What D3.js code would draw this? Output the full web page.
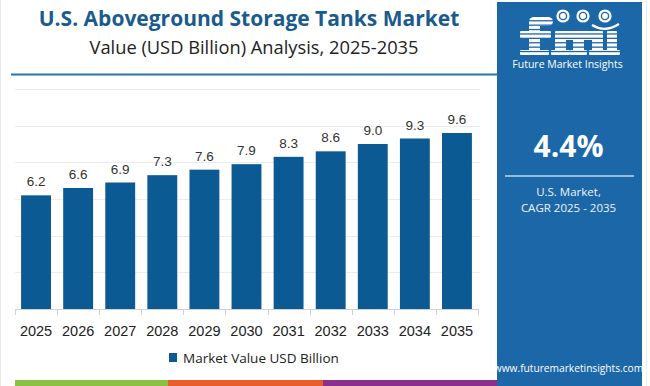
<!DOCTYPE html>
<html><head><meta charset="utf-8">
<script src="https://cdn.jsdelivr.net/npm/d3@7"></script>
<style>
html,body{margin:0;padding:0;background:#fff;}
svg{display:block;font-family:"Open Sans",sans-serif;}
</style></head>
<body>
<svg id="chart" width="650" height="386"></svg>
<script>
const years = ["2025","2026","2027","2028","2029","2030","2031","2032","2033","2034","2035"];
const values = [6.2,6.6,6.9,7.3,7.6,7.9,8.3,8.6,9.0,9.3,9.6];
const yTicks = [0,2,4,6,8,10,12];
const titleText = "U.S. Aboveground Storage Tanks Market";
const subtitleText = "Value (USD Billion) Analysis, 2025-2035";
const legendLabel = "Market Value USD Billion";
const cagrText = "4.4%";
const cagrLines = ["U.S. Market,", "CAGR 2025 - 2035"];
const siteText = "www.futuremarketinsights.com";
const stripeColors = ["#8cc045","#e85d2a","#8a2f8e"];

const svg = d3.select("#chart");
const barColor = "#0b5a93";
const panelColor = "#1c67a8";

// faint borders
svg.append("line").attr("x1",0.5).attr("x2",0.5).attr("y1",0).attr("y2",386).attr("stroke","#e8e8e8");
svg.append("line").attr("x1",646.5).attr("x2",646.5).attr("y1",0).attr("y2",386).attr("stroke","#ececec");

// title
svg.append("text").attr("x",249).attr("y",26).attr("text-anchor","middle")
  .attr("font-size",21).attr("font-weight",700).attr("fill","#1a5b8e").text(titleText);
svg.append("text").attr("x",254).attr("y",54).attr("text-anchor","middle")
  .attr("font-size",18.3).attr("fill","#222").text(subtitleText);
svg.append("line").attr("x1",11).attr("x2",497).attr("y1",74.5).attr("y2",74.5)
  .attr("stroke","#2a72a8").attr("stroke-width",2);

// scales
const x = d3.scaleBand().domain(years).range([15,478]).paddingInner(0.29).paddingOuter(0.145);
const y = d3.scaleLinear().domain([0,12]).range([309,89]);

// gridlines
svg.append("g").selectAll("line").data(yTicks.slice(1)).join("line")
  .attr("x1",15).attr("x2",480).attr("y1",d=>Math.round(y(d))+0.5).attr("y2",d=>Math.round(y(d))+0.5)
  .attr("stroke","#ececec");

// bars
svg.append("g").selectAll("rect").data(values).join("rect")
  .attr("x",(d,i)=>x(years[i])).attr("width",x.bandwidth())
  .attr("y",d=>y(d)).attr("height",d=>y(0)-y(d)).attr("fill",barColor);

// value labels
svg.append("g").selectAll("text").data(values).join("text")
  .attr("x",(d,i)=>x(years[i])+x.bandwidth()/2).attr("y",d=>y(d)-9)
  .attr("text-anchor","middle").attr("font-size",13.5).attr("fill","#333")
  .attr("font-family","Liberation Sans, Arial, sans-serif")
  .text(d=>d.toFixed(1));

// x axis
const xAxis = svg.append("g").attr("transform","translate(0,309)");
xAxis.append("line").attr("x1",15).attr("x2",478).attr("y1",0.5).attr("y2",0.5).attr("stroke","#d0d0d0");
const step = x.step();
const edges = years.map((d,i)=>15+i*step).concat([478]);
xAxis.selectAll("line.tk").data(edges).join("line").attr("class","tk")
  .attr("x1",d=>Math.round(d)+0.5).attr("x2",d=>Math.round(d)+0.5).attr("y1",0).attr("y2",6).attr("stroke","#d0d0d0");
xAxis.selectAll("text").data(years).join("text")
  .attr("x",d=>x(d)+x.bandwidth()/2).attr("y",27).attr("text-anchor","middle")
  .attr("font-size",14.5).attr("fill","#222").attr("font-family","Liberation Sans, Arial, sans-serif").text(d=>d);

// legend
svg.append("rect").attr("x",169).attr("y",353).attr("width",8).attr("height",9).attr("fill",barColor);
svg.append("text").attr("x",183).attr("y",362.5).attr("font-size",13.5).attr("fill","#222").text(legendLabel);

// bottom stripes
const stripeEdges = [15,168,323,497];
svg.append("g").selectAll("rect").data(stripeColors).join("rect")
  .attr("x",(d,i)=>stripeEdges[i]).attr("width",(d,i)=>stripeEdges[i+1]-stripeEdges[i])
  .attr("y",380).attr("height",6).attr("fill",d=>d);

// panel
const px = 497, pw = 145, pc = px + pw/2;
svg.append("rect").attr("x",px).attr("y",2).attr("width",pw).attr("height",384).attr("fill",panelColor);

// logo: striped letter shapes built from rects, clipped
const defs = svg.append("defs");
const clip = defs.append("clipPath").attr("id","fmiclip");
const shapes = [
  // f
  [529,21,11,34,2],[529,17,24,9,5],[520,31,31,7,1],[520,50,29,5,1],
  // m
  [555,31,48,9,5],[555,31,11,24,1],[573,31,11,24,1],[592,31,11,24,1],
  [551,50,19,5,1],[570,50,17,5,1],[589,50,18,5,1],
  // i
  [607,31,10,24,1],[603,50,17,5,1]
];
shapes.forEach(([sx,sy,sw,sh,r])=>{
  clip.append("rect").attr("x",sx).attr("y",sy).attr("width",sw).attr("height",sh).attr("rx",r);
});
const logo = svg.append("g");
const stripeG = logo.append("g").attr("clip-path","url(#fmiclip)");
for(let k=0;k<9;k++){
  stripeG.append("rect").attr("x",518).attr("width",104).attr("y",17+k*4.4).attr("height",3.1).attr("fill","#fff");
}
[[563,16],[583,16],[605,16]].forEach(([cx,cy])=>{
  logo.append("circle").attr("cx",cx).attr("cy",cy).attr("r",6.6).attr("fill","#fff");
  logo.append("circle").attr("cx",cx).attr("cy",cy).attr("r",3.6).attr("fill","none").attr("stroke",panelColor).attr("stroke-width",1.4);
});
logo.append("path").attr("d","M592,25 Q605,33 619,24").attr("stroke","#fff").attr("stroke-width",2.2).attr("fill","none");
logo.append("text").attr("x",pc-2).attr("y",68).attr("text-anchor","middle")
  .attr("font-size",10.5).attr("fill","#fff").text("Future Market Insights");

svg.append("text").attr("x",pc-1).attr("y",157).attr("text-anchor","middle")
  .attr("font-size",30).attr("font-weight",700).attr("fill","#fff").text(cagrText);
svg.append("line").attr("x1",505).attr("x2",634).attr("y1",176).attr("y2",176)
  .attr("stroke","#bcd6ee").attr("stroke-width",1.5);
cagrLines.forEach((t,i)=>{
  svg.append("text").attr("x",pc-1).attr("y",196+i*15.5).attr("text-anchor","middle")
    .attr("font-size",11.5).attr("fill","#eef4fa").text(t);
});
svg.append("text").attr("x",pc-1).attr("y",372).attr("text-anchor","middle")
  .attr("font-size",10.2).attr("fill","#fff").text(siteText);
</script>
</body></html>
